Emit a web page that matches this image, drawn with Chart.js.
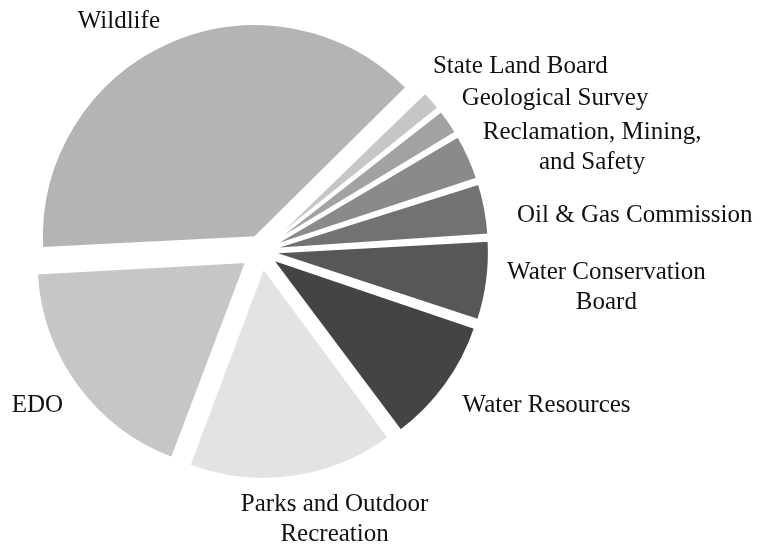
<!DOCTYPE html>
<html>
<head>
<meta charset="utf-8">
<script src="https://cdn.jsdelivr.net/npm/chart.js@4.4.0/dist/chart.umd.min.js"></script>
<style>
  html, body { margin: 0; padding: 0; background: #fff; }
  #wrap { width: 762px; height: 548px; position: relative; }
</style>
</head>
<body>
<div id="wrap"><canvas id="chart"></canvas></div>
<script>
// budget share by division, in percent
const divisions = [
    'Wildlife',
    'State Land Board',
    'Geological Survey',
    ['Reclamation, Mining,', 'and Safety'],
    'Oil & Gas Commission',
    ['Water Conservation', 'Board'],
    'Water Resources',
    ['Parks and Outdoor', 'Recreation'],
    'EDO'
];
const shares = [38.5, 1.7, 2.1, 3.6, 4.0, 6.1, 9.7, 15.9, 18.4];
const shades = ['#b4b4b4', '#c6c6c6', '#a2a2a2', '#8a8a8a', '#727272', '#575757', '#444444', '#e3e3e3', '#c6c6c6'];

// hand tweaks for where each label sits relative to its slice
const labelNudge = [[-9, -14], [1, -27], [13, -16.5], [14, -18], [32, 13], [20, -1.5], [17, 27], [42, 34], [-14, 26.5]];

// every slice pulled out by the same distance (px)
const EXPLODE = 20;

// Chart.js shifts an arc by offset/4 * (2 - sin(circumference)),
// so work back to the offset that gives a fixed pull-out
function explodeOffset(ctx) {
    const total = shares.reduce((a, b) => a + b, 0);
    const circ = ctx.parsed / total * Math.PI * 2;
    const fix = 1 - Math.sin(Math.min(Math.PI, circ));
    return 4 * EXPLODE / (1 + fix);
}

const outsideLabels = {
    id: 'outsideLabels',
    afterDatasetsDraw(chart) {
        const ctx = chart.ctx;
        const meta = chart.getDatasetMeta(0);
        ctx.save();
        ctx.font = '25px "Liberation Serif", "Times New Roman", serif';
        ctx.fillStyle = '#111';
        ctx.textBaseline = 'alphabetic';
        ctx.textAlign = 'center';
        meta.data.forEach((arc, i) => {
            const p = arc.getProps(['x', 'y', 'startAngle', 'endAngle', 'outerRadius'], true);
            const mid = (p.startAngle + p.endAngle) / 2;
            const dist = p.outerRadius + EXPLODE;
            const ax = p.x + Math.cos(mid) * dist + labelNudge[i][0];
            const ay = p.y + Math.sin(mid) * dist + labelNudge[i][1];
            const lines = [].concat(divisions[i]);
            const w = Math.max(...lines.map(l => ctx.measureText(l).width));
            const c = Math.cos(mid);
            let cx = ax;
            if (c > 0.2) cx = ax + w / 2;
            else if (c < -0.2) cx = ax - w / 2;
            lines.forEach((l, k) => ctx.fillText(l, cx, ay + k * 30));
        });
        ctx.restore();
    }
};

new Chart(document.getElementById('chart'), {
    type: 'pie',
    data: {
        labels: divisions,
        datasets: [{
            data: shares,
            backgroundColor: shades,
            borderColor: '#ffffff',
            borderWidth: 2,
            offset: explodeOffset,
            hoverOffset: 0
        }]
    },
    options: {
        responsive: true,
        maintainAspectRatio: false,
        animation: false,
        rotation: 266.9,
        radius: 208,
        layout: { padding: { left: 0, right: 240, top: 0, bottom: 46 } },
        plugins: {
            legend: { display: false },
            tooltip: { enabled: false }
        }
    },
    plugins: [outsideLabels]
});
</script>
</body>
</html>
